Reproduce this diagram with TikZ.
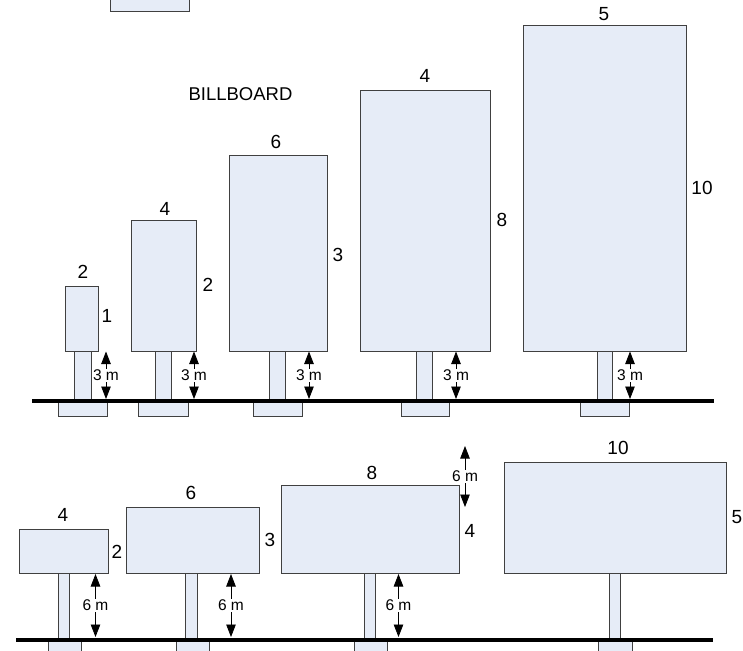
\documentclass[tikz,border=0pt]{standalone}
\usepackage{fontspec}
\setmainfont{Liberation Sans}
\usetikzlibrary{arrows.meta}
\definecolor{bbfill}{HTML}{E6ECF7}
\definecolor{bbline}{HTML}{404040}
\begin{document}
\begin{tikzpicture}[x=1pt,y=-1pt,
  panel/.style={draw=bbline,fill=bbfill,line width=0.9pt},
  dimlabel/.style={font=\fontsize{19}{22}\selectfont,inner sep=0pt},
  hlabel/.style={font=\fontsize{15.5}{18}\selectfont,fill=white,inner sep=0.8pt},
  measure/.style={line width=0.8pt,{Triangle[width=9.5pt,length=12.5pt]}-{Triangle[width=9.5pt,length=12.5pt]}},
  ground/.style={line width=3.5pt},
  titlelabel/.style={font=\fontsize{18.5}{22}\selectfont,inner sep=0pt}
]
\useasboundingbox (0,0) rectangle (743,650);
\clip (0,0) rectangle (743,650);

% top stub
\draw[panel] (110.5,-5) rectangle (189.5,11);

\node[titlelabel] (title) at (240.5,94) {BILLBOARD};

% ---------- Row 1 ----------
% footings
\draw[panel] (58,401) rectangle (107,416);
\draw[panel] (138,401) rectangle (188,416);
\draw[panel] (253,401) rectangle (302,416);
\draw[panel] (401,401) rectangle (449,416);
\draw[panel] (580,401) rectangle (629,416);
% posts
\draw[panel] (74.5,351) rectangle (91,401);
\draw[panel] (155,351) rectangle (171.5,401);
\draw[panel] (269.5,351) rectangle (285.5,401);
\draw[panel] (416.5,351) rectangle (432.5,401);
\draw[panel] (597,351) rectangle (612.5,401);
% boards
\draw[panel] (65,286) rectangle (98,351);
\draw[panel] (131,220) rectangle (196,351);
\draw[panel] (229,155) rectangle (327,351);
\draw[panel] (360,90) rectangle (490,351);
\draw[panel] (523,25) rectangle (686.5,351);
% ground
\coordinate (g1a) at (32,401);
\coordinate (g1b) at (714,401);
\draw[ground] (g1a) -- (g1b);
% height arrows
\foreach \i/\x in {1/106,2/194,3/309,4/456,5/630}{
  \coordinate (t1\i) at (\x,351.5);
  \coordinate (b1\i) at (\x,399);
  \draw[measure] (t1\i) -- node[hlabel] (h1\i) {3 m} (b1\i);
}
% dimension labels
\node[dimlabel] (w11) at (83,272) {2};
\node[dimlabel] (v11) at (107,316) {1};
\node[dimlabel] (w12) at (165,209) {4};
\node[dimlabel] (v12) at (208,285) {2};
\node[dimlabel] (w13) at (276,142) {6};
\node[dimlabel] (v13) at (338,255) {3};
\node[dimlabel] (w14) at (425,76) {4};
\node[dimlabel] (v14) at (502,220) {8};
\node[dimlabel] (w15) at (604,14) {5};
\node[dimlabel] (v15) at (702,188) {10};

% ---------- Row 2 ----------
% footings
\draw[panel] (48.5,640) rectangle (81,656);
\draw[panel] (176,640) rectangle (209.5,656);
\draw[panel] (354,640) rectangle (387.5,656);
\draw[panel] (598.5,640) rectangle (632.5,656);
% posts
\draw[panel] (58.5,573.5) rectangle (69.5,640);
\draw[panel] (185.5,573.5) rectangle (197.5,640);
\draw[panel] (364,573.5) rectangle (375.5,640);
\draw[panel] (609,573.5) rectangle (620,640);
% boards
\draw[panel] (19.5,529) rectangle (108.5,573.5);
\draw[panel] (126,507) rectangle (259.5,573.5);
\draw[panel] (281.5,485) rectangle (459.5,573.5);
\draw[panel] (504,462.5) rectangle (726,573.5);
% ground
\coordinate (g2a) at (16,640);
\coordinate (g2b) at (713,640);
\draw[ground] (g2a) -- (g2b);
% height arrows
\foreach \i/\x in {1/95.5,2/231,3/398.5}{
  \coordinate (t2\i) at (\x,574);
  \coordinate (b2\i) at (\x,637);
  \draw[measure] (t2\i) -- node[hlabel] (h2\i) {6 m} (b2\i);
}
\coordinate (tx) at (465,446);
\coordinate (bx) at (465,507);
\draw[measure] (tx) -- node[hlabel] (hx) {6 m} (bx);
% dimension labels
\node[dimlabel] (w21) at (63,515) {4};
\node[dimlabel] (v21) at (117,552) {2};
\node[dimlabel] (w22) at (191,493) {6};
\node[dimlabel] (v22) at (270,540) {3};
\node[dimlabel] (w23) at (372,473) {8};
\node[dimlabel] (v23) at (470,531) {4};
\node[dimlabel] (w24) at (618,448) {10};
\node[dimlabel] (v24) at (737,517) {5};
\end{tikzpicture}
\end{document}
